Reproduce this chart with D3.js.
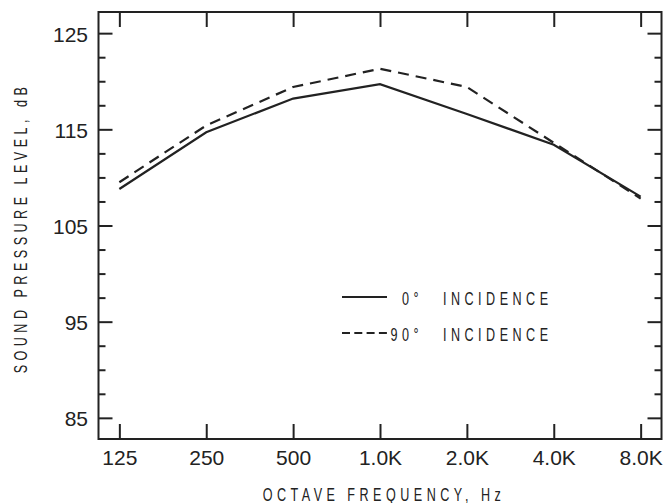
<!DOCTYPE html>
<html lang="en">
<head>
<meta charset="UTF-8">
<title>Sound Pressure Level vs Octave Frequency</title>
<script src="https://d3js.org/d3.v7.min.js"></script>
<style>
  body { margin: 0; background: #fff; }
  text { font-family: "Liberation Sans", Arial, sans-serif; fill: #222; }
</style>
</head>
<body>
<svg width="668" height="503"></svg>
<script>
  // values
  var frequencies = ['125', '250', '500', '1.0K', '2.0K', '4.0K', '8.0K'];
  var incidence0  = [108.8, 114.7, 118.2, 119.7, 116.6, 113.4, 108.0];
  var incidence90 = [109.5, 115.4, 119.4, 121.3, 119.4, 113.6, 107.8];
  var yTicks = [85, 95, 105, 115, 125];
  var yMinorTicks = [87.5, 90, 92.5, 97.5, 100, 102.5, 107.5, 110, 112.5, 117.5, 120, 122.5];
  var legendLabels = ['0°', '90°'];

  var svg = d3.select('svg');
  var frame = {left: 98.5, right: 661.5, top: 12, bottom: 439};

  var x = d3.scaleLinear().domain([-0.24, 6.24]).range([frame.left, frame.right]);
  var y = d3.scaleLinear().domain([82.8, 127.2]).range([frame.bottom, frame.top]);
  var idx = frequencies.map(function(d, i) { return i; });

  function tidy(g, size) {
    g.select('.domain').remove();
    g.attr('color', '#222').attr('font-size', size || 21)
     .attr('font-family', '"Liberation Sans", Arial, sans-serif');
    g.selectAll('line').attr('stroke-width', 2);
  }

  // bottom axis, ticks point inward
  svg.append('g')
    .attr('transform', 'translate(0,' + frame.bottom + ')')
    .call(d3.axisBottom(x).tickValues(idx).tickFormat(function(i) { return frequencies[i]; })
      .tickSizeInner(-15).tickSizeOuter(0).tickPadding(11))
    .call(tidy);

  svg.append('g')
    .attr('transform', 'translate(0,' + frame.top + ')')
    .call(d3.axisTop(x).tickValues(idx).tickFormat('').tickSizeInner(-15).tickSizeOuter(0))
    .call(tidy);

  // left axis
  svg.append('g')
    .attr('transform', 'translate(' + frame.left + ',0)')
    .call(d3.axisLeft(y).tickValues(yTicks).tickFormat(d3.format('d'))
      .tickSizeInner(-14).tickSizeOuter(0).tickPadding(10.5))
    .call(tidy)
    .selectAll('text').attr('dy', '0.38em');

  svg.append('g')
    .attr('transform', 'translate(' + frame.left + ',0)')
    .call(d3.axisLeft(y).tickValues(yMinorTicks).tickFormat('').tickSizeInner(-7).tickSizeOuter(0))
    .call(tidy);

  // right axis
  svg.append('g')
    .attr('transform', 'translate(' + frame.right + ',0)')
    .call(d3.axisRight(y).tickValues(yTicks).tickFormat('').tickSizeInner(-14).tickSizeOuter(0))
    .call(tidy);

  svg.append('g')
    .attr('transform', 'translate(' + frame.right + ',0)')
    .call(d3.axisRight(y).tickValues(yMinorTicks).tickFormat('').tickSizeInner(-7).tickSizeOuter(0))
    .call(tidy);

  // plot frame
  svg.append('rect')
    .attr('x', frame.left).attr('y', frame.top)
    .attr('width', frame.right - frame.left).attr('height', frame.bottom - frame.top)
    .attr('fill', 'none').attr('stroke', '#222').attr('stroke-width', 2);

  var line = d3.line()
    .x(function(d, i) { return x(i); })
    .y(function(d) { return y(d); });

  svg.append('path').datum(incidence0)
    .attr('d', line).attr('fill', 'none')
    .attr('stroke', '#222').attr('stroke-width', 2.2);

  svg.append('path').datum(incidence90)
    .attr('d', line).attr('fill', 'none')
    .attr('stroke', '#222').attr('stroke-width', 2.2)
    .attr('stroke-dasharray', '11,7');

  // narrow, letter-spaced lettering like the original
  function label(str, px, py, anchor, rot) {
    return svg.append('text')
      .attr('transform', 'translate(' + px + ',' + py + ') rotate(' + (rot || 0) + ') scale(0.7,1)')
      .attr('text-anchor', anchor)
      .attr('font-size', 18)
      .attr('letter-spacing', 6.4)
      .text(str);
  }

  label('OCTAVE FREQUENCY, Hz', 384, 501, 'middle');
  label('SOUND PRESSURE LEVEL, dB', 27, 228, 'middle', -90);

  // legend
  var legendY = [297, 333];
  var legendStyles = [null, '8,4.3'];
  legendLabels.forEach(function(lbl, i) {
    svg.append('line')
      .attr('x1', 342).attr('x2', 387)
      .attr('y1', legendY[i]).attr('y2', legendY[i])
      .attr('stroke', '#222').attr('stroke-width', 2.2)
      .attr('stroke-dasharray', legendStyles[i]);
    label(lbl, 423, legendY[i] + 8, 'end');
    label('INCIDENCE', 443, legendY[i] + 8, 'start');
  });
</script>
</body>
</html>
